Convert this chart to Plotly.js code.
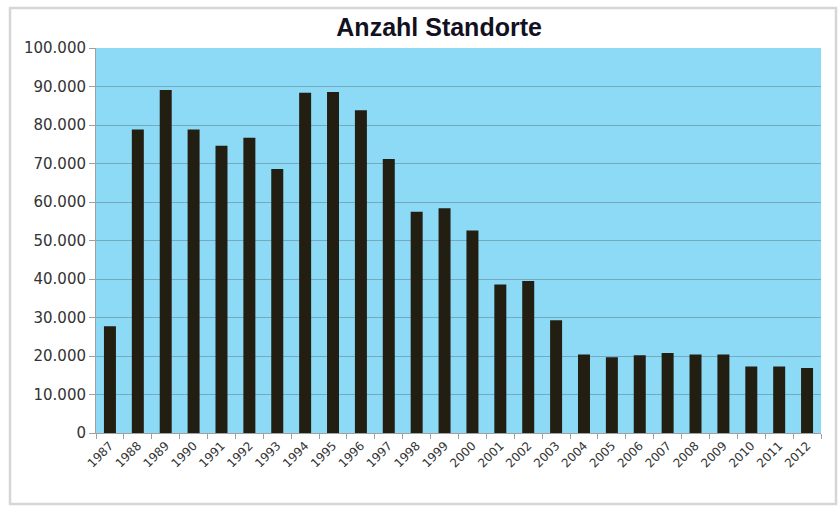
<!DOCTYPE html>
<html>
<head>
<meta charset="utf-8">
<script src="https://cdn.plot.ly/plotly-3.0.1.min.js"></script>
<style>html,body{margin:0;padding:0;background:#fff;}#chart{width:838px;height:520px;}</style>
</head>
<body>
<div id="chart"></div>
<script>
const years = ['1987','1988','1989','1990','1991','1992','1993','1994','1995','1996','1997','1998','1999','2000','2001','2002','2003','2004','2005','2006','2007','2008','2009','2010','2011','2012'];
const standorte = [27700, 78800, 89100, 78800, 74600, 76700, 68600, 88400, 88600, 83800, 71200, 57500, 58400, 52600, 38600, 39500, 29300, 20400, 19700, 20200, 20800, 20400, 20400, 17300, 17300, 16900];
const chartTitle = 'Anzahl Standorte';

const trace = {
  type: 'bar',
  x: years,
  y: standorte,
  marker: {color: '#221f12', line: {width: 0}},
  hoverinfo: 'x+y'
};

const layout = {
  width: 838,
  height: 520,
  margin: {l: 96, r: 17, t: 48, b: 87},
  paper_bgcolor: '#ffffff',
  plot_bgcolor: '#8ddaf6',
  separators: ',.',
  bargap: 0.57,
  showlegend: false,
  title: {
    text: '<b>' + chartTitle + '</b>',
    font: {family: 'Liberation Sans, Arial, sans-serif', size: 25, color: '#111122'},
    x: 0.524, xanchor: 'center', xref: 'container',
    y: 0.948, yanchor: 'middle', yref: 'container'
  },
  xaxis: {
    type: 'category',
    tickangle: -45,
    ticks: 'outside',
    tickson: 'boundaries',
    ticklen: 5,
    tickcolor: '#a0a0a0',
    showline: true,
    linecolor: '#a0a0a0',
    linewidth: 1,
    showgrid: false,
    tickfont: {family: 'DejaVu Sans, Verdana, sans-serif', size: 12, color: '#333333'}
  },
  yaxis: {
    range: [0, 100000],
    dtick: 10000,
    tick0: 0,
    tickformat: ',d',
    ticks: 'outside',
    ticklen: 6,
    tickcolor: '#a0a0a0',
    showline: true,
    linecolor: '#a0a0a0',
    linewidth: 1,
    showgrid: true,
    gridcolor: '#75a9bd',
    gridwidth: 1,
    zeroline: false,
    tickfont: {family: 'DejaVu Sans, Verdana, sans-serif', size: 15, color: '#333333'}
  },
  shapes: [{
    type: 'rect', xref: 'paper', yref: 'paper',
    x0: -0.1186, x1: 1.0207, y0: -0.1844, y1: 1.1039,
    line: {color: '#d6d6d6', width: 2.5},
    fillcolor: 'rgba(0,0,0,0)', layer: 'below'
  }]
};

Plotly.newPlot('chart', [trace], layout, {staticPlot: true, displayModeBar: false});
</script>
</body>
</html>
